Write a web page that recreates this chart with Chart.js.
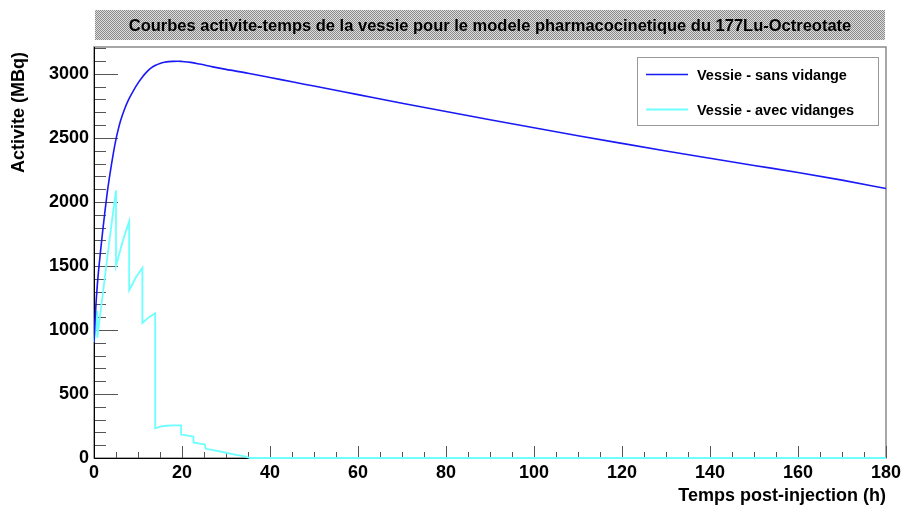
<!DOCTYPE html>
<html><head><meta charset="utf-8">
<script src="https://cdn.jsdelivr.net/npm/chart.js@4.4.1/dist/chart.umd.min.js"></script>
<style>html,body{margin:0;padding:0;background:#fff;overflow:hidden}#wrap{width:901px;height:506px}</style>
</head><body><div id="wrap"><canvas id="c" width="901" height="506"></canvas></div>
<script>
const titleText = 'Courbes activite-temps de la vessie pour le modele pharmacocinetique du 177Lu-Octreotate';
const xTitle = 'Temps post-injection (h)';
const yTitle = 'Activite (MBq)';
const seriesNames = ['Vessie - sans vidange', 'Vessie - avec vidanges'];
const xTickValues = [0, 20, 40, 60, 80, 100, 120, 140, 160, 180];
const yTickValues = [0, 500, 1000, 1500, 2000, 2500, 3000];

// Vessie - sans vidange (h, MBq)
const sansT = [0,0.25,0.5,0.75,1,1.5,2,2.5,3,3.5,4,4.5,5,5.5,6,7,8,9,10,11,12,13,14,15,16,17,18,19,20,22,24,27,30,35,40,45,50,60,70,80,90,100,110,120,130,140,150,160,170,180];
const sansV = [900,1080,1230,1350,1450,1620,1780,1930,2070,2190,2300,2400,2490,2565,2630,2730,2808,2872,2928,2976,3016,3047,3068,3082,3091,3096,3098,3099,3097,3090,3077,3055,3035,3005,2972,2938,2905,2838,2771,2706,2642,2579,2517,2457,2398,2341,2285,2230,2170,2105];

// Vessie - avec vidanges (h, MBq)
const avecT = [0,0.75,0.75,2,3,4,5,5,6.5,8,8,9.5,11,11,12.5,13.9,13.9,15,16.5,18,19.8,19.8,21,22.6,22.6,24,25.2,25.4,28,30,32,34,35.5,40,180];
const avecV = [906,1150,940,1280,1560,1830,2090,1500,1690,1850,1310,1410,1485,1055,1100,1130,232,245,252,255,255,183,176,167,122,113,106,72,55,41,27,14,0,0,0];

const FONT = '"Liberation Sans", Arial, Helvetica, sans-serif';
const toPts = (t, v) => t.map((x, i) => ({x: x, y: v[i]}));

function hatch(ctx) {
  const c = document.createElement('canvas');
  c.width = 4; c.height = 4;
  const g = c.getContext('2d');
  g.fillStyle = '#dcdcdc'; g.fillRect(0, 0, 4, 4);
  g.fillStyle = '#8c8c8c';
  for (let i = 0; i < 4; i++) { g.fillRect(i, i, 1, 1); g.fillRect((i + 2) % 4, i, 1, 1); }
  return ctx.createPattern(c, 'repeat');
}

const decor = {
  id: 'decor',
  beforeDatasetsDraw(chart) {
    const ctx = chart.ctx, a = chart.chartArea, xs = chart.scales.x, ys = chart.scales.y;
    ctx.save();
    ctx.strokeStyle = '#8a8a8a'; ctx.lineWidth = 1.5;
    ctx.strokeRect(a.left, a.top, a.right - a.left, a.bottom - a.top);
    ctx.strokeStyle = '#555'; ctx.lineWidth = 1;
    for (let v = 0; v <= ys.max; v += 100) {
      const y = Math.round(ys.getPixelForValue(v)) + 0.5;
      const len = (v % 500 === 0) ? 24 : 12;
      ctx.beginPath(); ctx.moveTo(a.left, y); ctx.lineTo(a.left + len, y); ctx.stroke();
    }
    for (let t = 0; t <= xs.max; t += 5) {
      const x = Math.round(xs.getPixelForValue(t)) + 0.5;
      const len = (t % 20 === 0) ? 12 : 6;
      ctx.beginPath(); ctx.moveTo(x, a.bottom); ctx.lineTo(x, a.bottom - len); ctx.stroke();
    }
    ctx.strokeStyle = '#000'; ctx.lineWidth = 1;
    ctx.beginPath(); ctx.moveTo(a.left + 0.5, a.top); ctx.lineTo(a.left + 0.5, a.bottom + 0.5);
    ctx.lineTo(a.right, a.bottom + 0.5); ctx.stroke();
    ctx.restore();
  },
  afterDraw(chart) {
    const ctx = chart.ctx, a = chart.chartArea;
    ctx.save();
    ctx.fillStyle = hatch(ctx);
    ctx.fillRect(95, 10, 790, 30);
    ctx.fillStyle = '#000';
    ctx.font = 'bold 16.5px ' + FONT;
    ctx.textAlign = 'center'; ctx.textBaseline = 'middle';
    ctx.fillText(titleText, 490, 26);
    ctx.font = 'bold 18px ' + FONT;
    ctx.textAlign = 'right'; ctx.textBaseline = 'alphabetic';
    ctx.fillText(xTitle, a.right, 501);
    ctx.save();
    ctx.translate(24, 52); ctx.rotate(-Math.PI / 2);
    ctx.textAlign = 'right';
    ctx.fillText(yTitle, 0, 0);
    ctx.restore();
    ctx.fillStyle = '#fff'; ctx.fillRect(637.5, 57.5, 241, 68);
    ctx.strokeStyle = '#999'; ctx.lineWidth = 1;
    ctx.strokeRect(637.5, 57.5, 241, 68);
    const rows = [74.5, 109.5];
    chart.data.datasets.forEach((ds, i) => {
      ctx.strokeStyle = ds.borderColor; ctx.lineWidth = ds.borderWidth;
      ctx.beginPath(); ctx.moveTo(646, rows[i]); ctx.lineTo(688, rows[i]); ctx.stroke();
      ctx.fillStyle = '#000'; ctx.font = 'bold 14.5px ' + FONT;
      ctx.textAlign = 'left'; ctx.textBaseline = 'middle';
      ctx.fillText(ds.label, 697, rows[i] + 1);
    });
    ctx.restore();
  }
};

new Chart(document.getElementById('c'), {
  type: 'scatter',
  data: {
    datasets: [
      { label: seriesNames[0], data: toPts(sansT, sansV), showLine: true, borderColor: 'rgb(25,25,245)', borderWidth: 1.6, pointRadius: 0, cubicInterpolationMode: 'monotone' },
      { label: seriesNames[1], data: toPts(avecT, avecV), showLine: true, borderColor: 'rgb(110,255,255)', borderWidth: 1.8, pointRadius: 0, tension: 0, clip: 4 }
    ]
  },
  options: {
    responsive: false, animation: false, devicePixelRatio: 1,
    layout: { padding: { top: 47, right: 15, left: 0, bottom: 0 } },
    plugins: { legend: { display: false }, tooltip: { enabled: false }, title: { display: false } },
    scales: {
      x: {
        type: 'linear', min: 0, max: 180,
        afterBuildTicks: s => { s.ticks = xTickValues.map(v => ({ value: v })); },
        afterFit: s => { s.height = 48; s.paddingLeft = 0; s.paddingRight = 0; },
        grid: { display: false, drawTicks: false }, border: { display: false },
        ticks: { color: '#000', font: { family: FONT, size: 18, weight: 'bold' }, padding: 4, maxRotation: 0, autoSkip: false, callback: v => String(v) }
      },
      y: {
        type: 'linear', min: 0, max: 3210,
        afterBuildTicks: s => { s.ticks = yTickValues.map(v => ({ value: v })); },
        afterFit: s => { s.width = 94; s.paddingTop = 0; s.paddingBottom = 0; },
        grid: { display: false, drawTicks: false }, border: { display: false },
        ticks: { color: '#000', font: { family: FONT, size: 18, weight: 'bold' }, padding: 5, autoSkip: false, callback: v => String(v) }
      }
    }
  },
  plugins: [decor]
});
</script>
</body></html>
